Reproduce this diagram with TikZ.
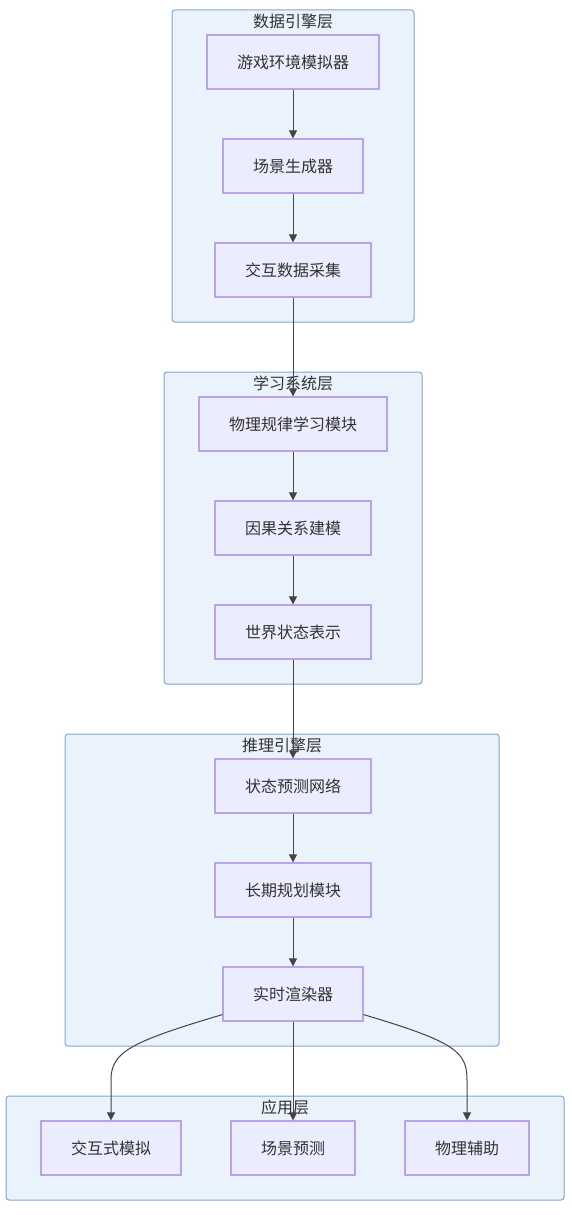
\documentclass[tikz,border=0pt]{standalone}
\usepackage{fontspec}
\setmainfont{Noto Sans CJK SC}
\usetikzlibrary{arrows.meta}
\definecolor{clfill}{HTML}{EAF2FB}
\definecolor{cldraw}{HTML}{7FA6D3}
\definecolor{ndfill}{HTML}{ECECFF}
\definecolor{nddraw}{HTML}{B9A4EC}
\definecolor{txt}{HTML}{333333}
\definecolor{edge}{HTML}{444444}
\tikzset{
  cluster/.style={draw=cldraw, fill=clfill, line width=1pt, rounded corners=3pt},
  ctitle/.style={font=\fontsize{16}{18}\selectfont, text=txt, inner sep=0pt},
  box/.style={draw=nddraw, fill=ndfill, line width=1.2pt, minimum height=54pt, inner sep=0pt, font=\fontsize{16}{18}\selectfont, text=txt},
  conn/.style={draw=edge, line width=1pt, -{Triangle[length=8pt,width=8pt]}},
}
\begin{document}
\begin{tikzpicture}[x=1pt,y=-1pt]
\useasboundingbox (0,0) rectangle (571,1215);
% clusters
\draw[cluster] (172,10) rectangle (414,322);
\node[ctitle] (t1) at (293,21) {数据引擎层};
\draw[cluster] (164,372) rectangle (422,684);
\node[ctitle] (t2) at (293,383) {学习系统层};
\draw[cluster] (65,734) rectangle (499,1046);
\node[ctitle] (t3) at (282,745) {推理引擎层};
\draw[cluster] (6,1096) rectangle (564,1200);
\node[ctitle] (t4) at (285,1107) {应用层};
% nodes
\node[box, minimum width=172pt] (n1) at (293,62) {游戏环境模拟器};
\node[box, minimum width=140pt] (n2) at (293,166) {场景生成器};
\node[box, minimum width=156pt] (n3) at (293,270) {交互数据采集};
\node[box, minimum width=188pt] (n4) at (293,424) {物理规律学习模块};
\node[box, minimum width=156pt] (n5) at (293,528) {因果关系建模};
\node[box, minimum width=156pt] (n6) at (293,632) {世界状态表示};
\node[box, minimum width=156pt] (n7) at (293,786) {状态预测网络};
\node[box, minimum width=156pt] (n8) at (293,890) {长期规划模块};
\node[box, minimum width=140pt] (n9) at (293,994) {实时渲染器};
\node[box, minimum width=140pt] (a1) at (111,1148) {交互式模拟};
\node[box, minimum width=124pt] (a2) at (293,1148) {场景预测};
\node[box, minimum width=124pt] (a3) at (467,1148) {物理辅助};
% connectors
\draw[conn] (n1) -- (n2);
\draw[conn] (n2) -- (n3);
\draw[conn] (n3) -- (n4);
\draw[conn] (n4) -- (n5);
\draw[conn] (n5) -- (n6);
\draw[conn] (n6) -- (n7);
\draw[conn] (n7) -- (n8);
\draw[conn] (n8) -- (n9);
\draw[conn] (n9) -- (a2);
\draw[conn] ([yshift=7pt]n9.south west) .. controls (130,1042) and (111,1052) .. (111,1080) -- (a1.north);
\draw[conn] ([yshift=7pt]n9.south east) .. controls (456,1042) and (467,1052) .. (467,1080) -- (a3.north);
\end{tikzpicture}
\end{document}
